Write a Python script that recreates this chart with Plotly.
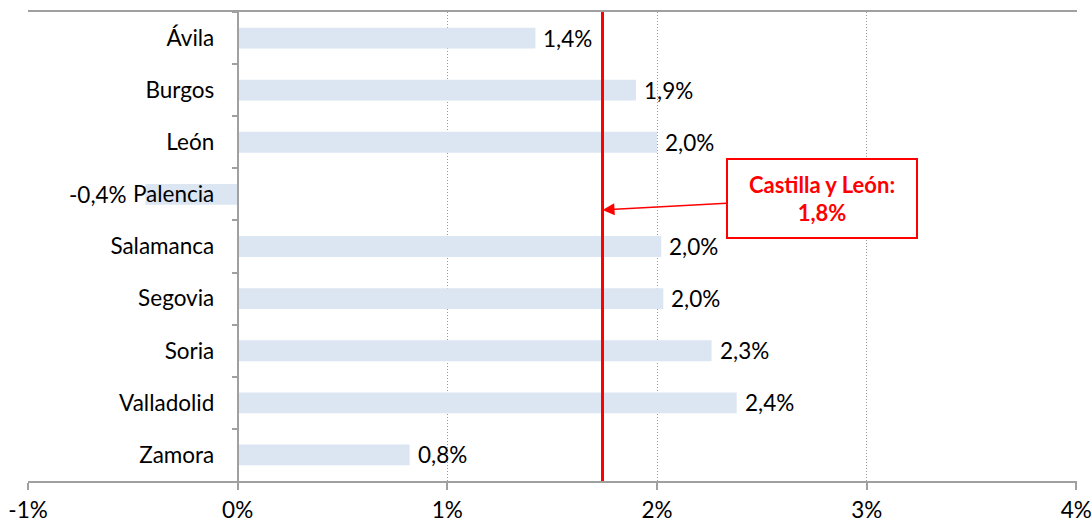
import plotly.graph_objects as go

provinces = ["Ávila", "Burgos", "León", "Palencia", "Salamanca", "Segovia", "Soria", "Valladolid", "Zamora"]
values = [1.42, 1.90, 2.00, -0.44, 2.02, 2.03, 2.26, 2.38, 0.82]
region_label = "Castilla y León:"
region_value_text = "1,8%"
region_line_value = 1.74
x_tickvals = [-1, 0, 1, 2, 3, 4]
x_ticktext = ["-1%", "0%", "1%", "2%", "3%", "4%"]

labels = [f"{v:.1f}".replace(".", ",") + "%" for v in values]

FONT = "Lato, 'Open Sans', sans-serif"
FS = 22.5

fig = go.Figure()
fig.add_trace(go.Bar(
    y=provinces, x=values, orientation="h",
    marker=dict(color="#DCE6F2", line=dict(width=0)),
    width=0.4,
    hoverinfo="skip",
))

# data labels next to the bar ends
for p, v, t in zip(provinces, values, labels):
    fig.add_annotation(
        x=v, y=p, xref="x", yref="y", text=t, showarrow=False,
        xanchor="left" if v >= 0 else "right",
        xshift=6 if v >= 0 else -16,
        font=dict(family=FONT, size=FS, color="#000"),
    )

fig.add_shape(type="line", xref="x", yref="paper",
              x0=region_line_value, x1=region_line_value, y0=0, y1=1,
              line=dict(color="#FF0000", width=3), layer="above")

fig.add_annotation(
    x=region_line_value, y=3.3, xref="x", yref="y",
    text=f"<b>{region_label}<br>{region_value_text}</b>",
    showarrow=True, arrowhead=2, arrowsize=1.6, arrowwidth=1.5,
    arrowcolor="#FF0000", axref="pixel", ayref="pixel", ax=219, ay=-12,
    font=dict(family=FONT, size=22, color="#FF0000"),
    bgcolor="#FFFFFF", bordercolor="#FF0000", borderwidth=2,
    width=186, height=75, align="center",
)

fig.update_layout(
    width=1092, height=522,
    margin=dict(l=28, r=15, t=12, b=41, autoexpand=False),
    plot_bgcolor="#FFFFFF", paper_bgcolor="#FFFFFF",
    showlegend=False,
    font=dict(family=FONT, size=FS, color="#000"),
    xaxis=dict(
        range=[-1, 4.003], tickvals=x_tickvals, ticktext=x_ticktext,
        showgrid=True, gridcolor="#999999", griddash="1px,2px", gridwidth=1,
        zeroline=False, showline=True, linecolor="#A0A0A0", linewidth=2,
        mirror=True, ticks="outside", ticklen=7, tickcolor="#A0A0A0", tickwidth=2,
        ticklabelstandoff=1, automargin=False, ticklabeloverflow="allow",
        tickfont=dict(family=FONT, size=FS, color="#000"),
    ),
    yaxis=dict(
        autorange="reversed", anchor="free", position=0.2,
        showgrid=False, zeroline=False, showline=True, linecolor="#A0A0A0", linewidth=2,
        ticks="outside", tickson="boundaries", ticklen=5, tickcolor="#A0A0A0", tickwidth=2,
        ticklabelstandoff=18, automargin=False,
        tickfont=dict(family=FONT, size=FS, color="#000"),
    ),
)

fig.write_html(
    "out.html",
    config={"displayModeBar": False},
    post_script="document.body.style.margin='0';document.body.style.overflow='hidden';",
)
